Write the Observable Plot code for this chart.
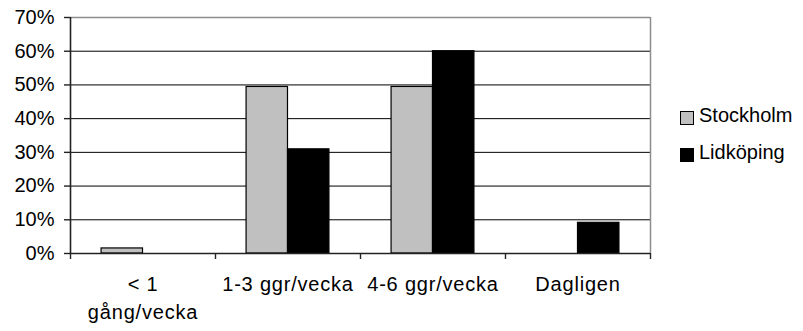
<!DOCTYPE html>
<html>
<head>
<meta charset="utf-8">
<script src="https://cdn.jsdelivr.net/npm/d3@7"></script>
<script src="https://cdn.jsdelivr.net/npm/@observablehq/plot@0.6"></script>
<style>
  html, body { margin: 0; padding: 0; background: #fff; }
  #chart { position: relative; width: 803px; height: 331px; font-family: Arial, "Liberation Sans", sans-serif; }
  #chart g[aria-label="text"] text { letter-spacing: 0.8px; }
  #legend { position: absolute; left: 680px; top: 105px; font-size: 20px; color: #000; }
  #legend .item { display: flex; align-items: center; height: 20px; margin-bottom: 17px; }
  #legend .sw { width: 14px; height: 14px; box-sizing: border-box; border: 1px solid #000; margin-right: 5px; margin-top: 5px; }
</style>
</head>
<body>
<div id="chart"></div>
<script>
// Frequency categories along the x axis, with their printed (wrapped) labels
const categories = ["< 1 gång/vecka", "1-3 ggr/vecka", "4-6 ggr/vecka", "Dagligen"];
const categoryLabels = ["< 1\ngång/vecka", "1-3 ggr/vecka", "4-6 ggr/vecka", "Dagligen"];
// Series and their shares (percent) per category
const seriesNames = ["Stockholm", "Lidköping"];
const stockholm = [1.5, 49.4, 49.4, 0];
const lidkoping = [0, 30.9, 60, 9.1];
const seriesColors = ["#c0c0c0", "#000000"];
// Y axis ticks (percent)
const yTicks = [0, 10, 20, 30, 40, 50, 60, 70];

// Each category is one unit on x; two bars share the middle with a 150% gap width
const gapWidth = 1.5;
const barW = 1 / (seriesNames.length + gapWidth);
const sideGap = gapWidth * barW / 2;

const rows = [];
[stockholm, lidkoping].forEach((vals, s) => {
  vals.forEach((v, i) => {
    if (v > 0) rows.push({category: categories[i], index: i, series: seriesNames[s], s, value: v});
  });
});

const font = 'Arial, "Liberation Sans", sans-serif';

const plot = Plot.plot({
  width: 803,
  height: 331,
  marginTop: 17,
  marginLeft: 70,
  marginRight: 153,
  marginBottom: 78,
  style: {fontFamily: font, fontSize: "20px", color: "#000", background: "#fff"},
  x: {type: "linear", domain: [0, categories.length], axis: null},
  y: {domain: [0, 70], axis: null},
  color: {domain: seriesNames, range: seriesColors},
  marks: [
    // horizontal gridlines
    Plot.ruleY(yTicks.filter(t => t > 0 && t < 70), {stroke: "#000", strokeWidth: 1}),
    // plot area border (top and right)
    Plot.ruleY([70], {stroke: "#8c8c8c", strokeWidth: 1.5}),
    Plot.ruleX([categories.length], {stroke: "#8c8c8c", strokeWidth: 1.5}),
    // bars
    Plot.rectY(rows, {
      x1: d => d.index + sideGap + d.s * barW,
      x2: d => d.index + sideGap + (d.s + 1) * barW,
      y1: 0,
      y2: "value",
      fill: "series",
      stroke: "#000",
      strokeWidth: 1.2
    }),
    // axes lines
    Plot.ruleX([0], {stroke: "#222", strokeWidth: 1.6}),
    Plot.ruleY([0], {stroke: "#222", strokeWidth: 1.4}),
    // y axis ticks and labels
    Plot.axisY({ticks: yTicks, label: null, tickSize: 6, tickPadding: 10, tickFormat: d => d + "%", stroke: "#222", strokeWidth: 1.4, fontSize: 20, fill: "#000"}),
    // x axis ticks at category boundaries
    Plot.axisX({ticks: d3.range(categories.length + 1), label: null, tickSize: 6, tickFormat: () => "", stroke: "#222", strokeWidth: 1.4}),
    // category labels centred in each band
    Plot.text(categoryLabels, {
      x: (d, i) => i + 0.5,
      frameAnchor: "bottom",
      lineAnchor: "top",
      dy: 18,
      lineHeight: 1.375,
      fontSize: 20,
      fill: "#000"
    })
  ]
});

const chart = document.getElementById("chart");
chart.appendChild(plot);

// legend to the right of the plot area
const legend = document.createElement("div");
legend.id = "legend";
seriesNames.forEach((name, i) => {
  const item = document.createElement("div");
  item.className = "item";
  const sw = document.createElement("span");
  sw.className = "sw";
  sw.style.background = seriesColors[i];
  const label = document.createElement("span");
  label.textContent = name;
  item.appendChild(sw);
  item.appendChild(label);
  legend.appendChild(item);
});
chart.appendChild(legend);
</script>
</body>
</html>
